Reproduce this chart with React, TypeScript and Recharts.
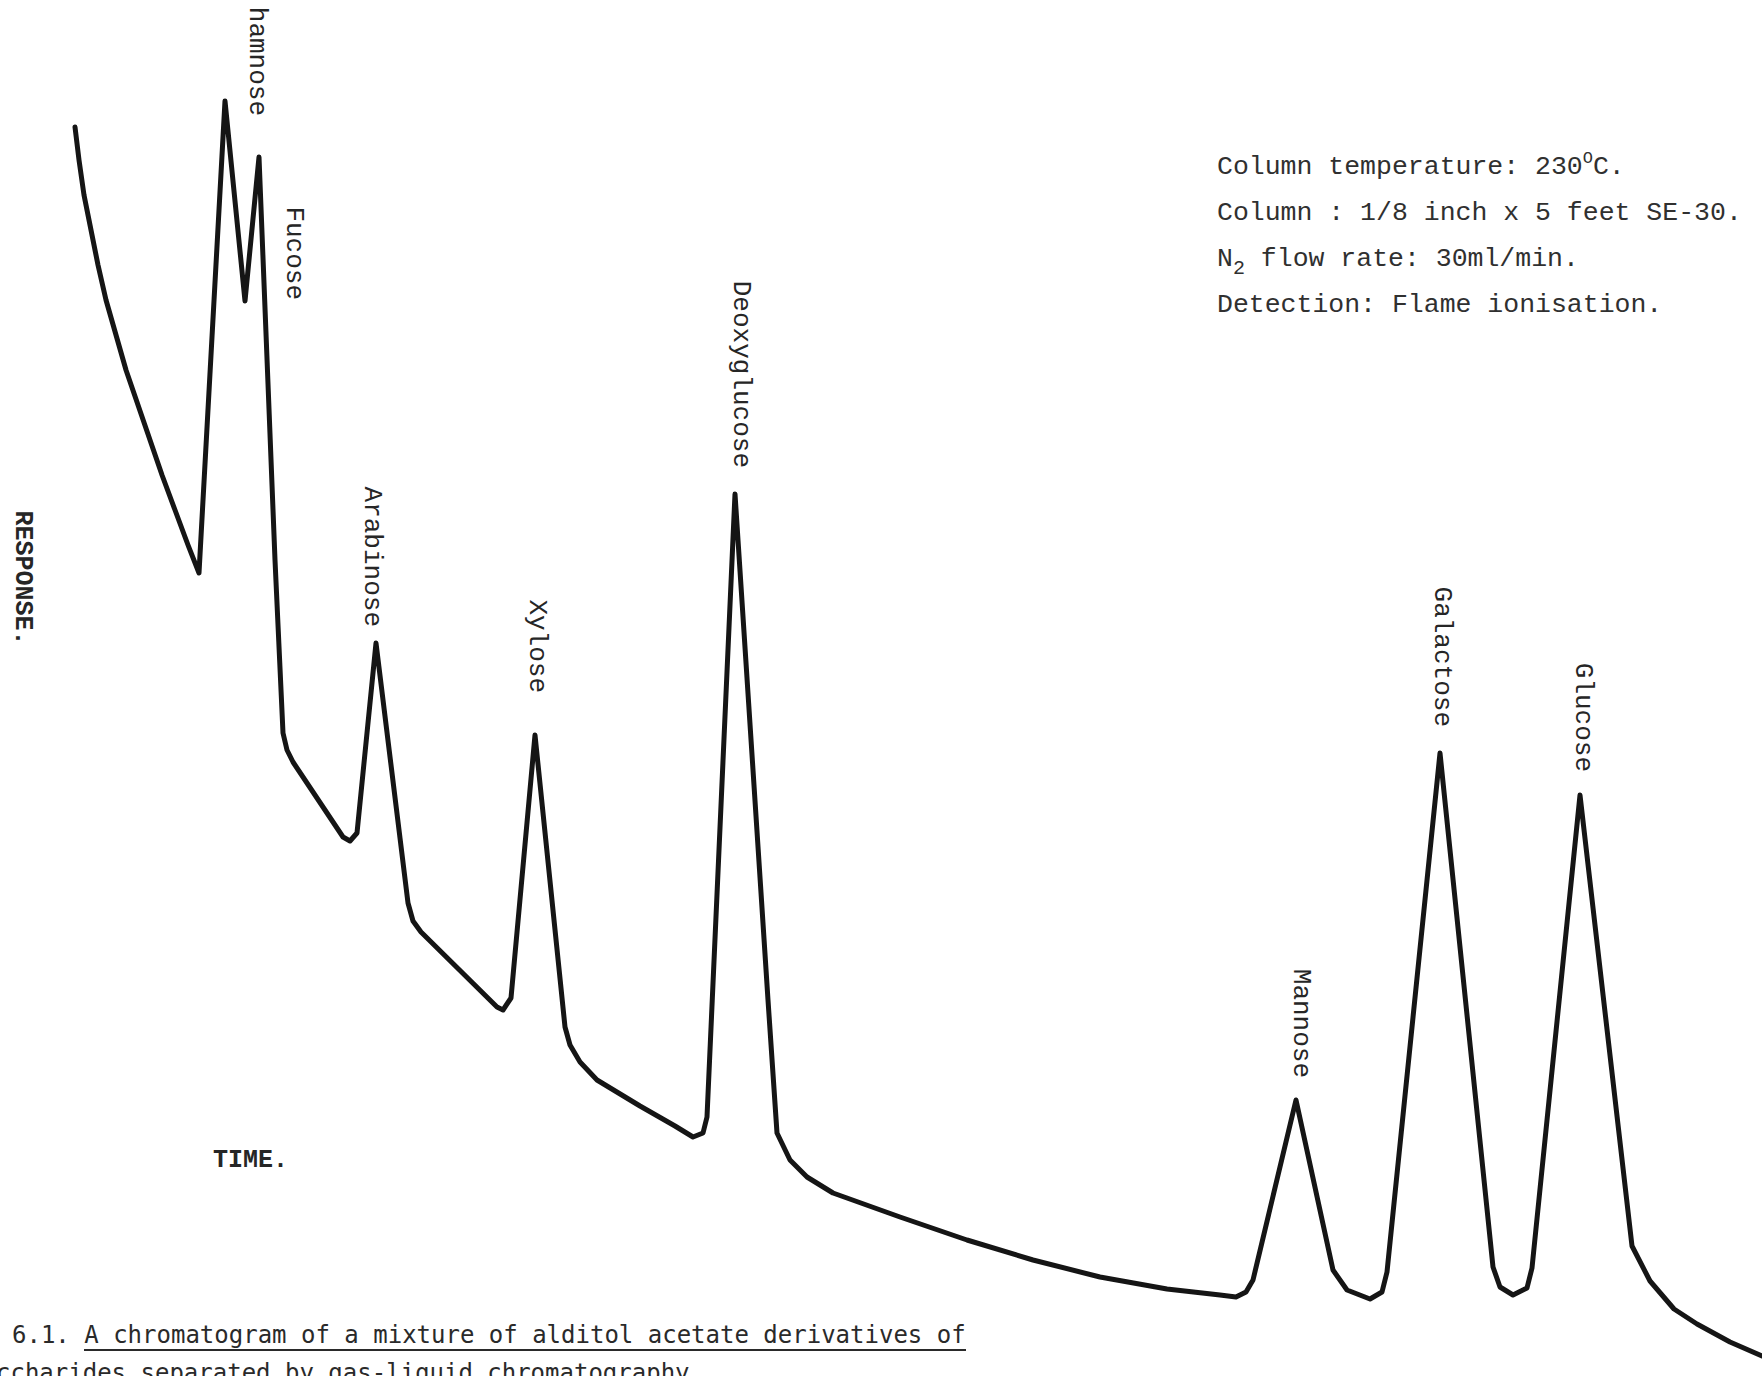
import React from 'react';
import { LineChart, Line, XAxis, YAxis } from 'recharts';

// Recorder trace, read in mm of chart paper (time along, response up).
const time = [
  7.5, 7.9, 8.4, 9.1, 9.8, 10.6, 11.6, 12.6, 13.8, 15.0, 16.2, 17.5, 18.8, 19.9,
  22.5, 24.5, 25.9, 27.5, 28.3, 28.7, 29.3, 34.3, 35.0, 35.7,
  37.6, 40.8, 41.3, 42.1, 49.7, 50.3, 51.1, 53.5, 56.5, 57.0,
  58.0, 59.7, 64.0, 67.5, 69.3, 70.3, 70.7, 73.5, 76.8, 77.7,
  79.0, 80.7, 83.3, 90.0, 96.7, 103.3, 110.0, 116.7, 122.0, 123.6,
  124.6, 125.3, 129.6, 133.3, 134.7, 137.0, 138.2, 138.7, 144.0, 149.3,
  150.0, 151.3, 152.7, 153.2, 158.0, 163.2, 165.0, 167.4, 169.7, 173.0,
  176.2,
];

const response = [
  124.9, 121.6, 118.1, 114.6, 111.1, 107.6, 104.1, 100.6, 97.1, 93.6, 90.1, 86.6, 83.1, 80.3,
  127.5, 107.5, 121.9, 81.6, 64.3, 62.6, 61.4, 53.9, 53.5, 54.3,
  73.3, 47.3, 45.5, 44.4, 36.9, 36.6, 37.8, 64.1, 34.9, 33.1,
  31.4, 29.6, 27.0, 25.0, 23.9, 24.3, 25.9, 88.2, 37.6, 24.3,
  21.6, 19.9, 18.3, 15.9, 13.6, 11.6, 9.9, 8.7, 8.1, 7.9,
  8.4, 9.6, 27.6, 10.6, 8.6, 7.7, 8.4, 10.4, 62.3, 10.9,
  8.9, 8.1, 8.8, 10.8, 58.1, 13.0, 9.5, 6.7, 5.2, 3.4,
  2.0,
];

// Peak names and the times they sit at on the trace.
const peakNames = ['hamnose', 'Fucose', 'Arabinose', 'Xylose', 'Deoxyglucose', 'Mannose', 'Galactose', 'Glucose'];
const peakTimes = [22.5, 25.9, 37.6, 53.5, 73.5, 129.6, 144.0, 158.0];

const runConditions = [
  'Column : 1/8 inch x 5 feet SE-30.',
  'Detection: Flame ionisation.',
];

const W = 1762;
const H = 1376;

// where each peak label sits relative to its peak tip (px)
const labelNudge: Record<string, [number, number]> = {
  hamnose: [32, 15],
  Fucose: [35, 143],
  Arabinose: [-4, -16],
  Xylose: [2, -42],
  Deoxyglucose: [6, -26],
  Mannose: [5, -22],
  Galactose: [2, -26],
  Glucose: [3, -23],
};

const data = time.map((t, i) => {
  const k = peakTimes.indexOf(t);
  return { t, r: response[i], peak: k >= 0 ? peakNames[k] : null };
});

const typewriter = "'Liberation Mono', 'Courier New', monospace";
const ink = '#262626';

const PeakLabel = (props: any) => {
  const { cx, cy, payload, index } = props;
  if (!payload || !payload.peak) return <g key={`pk-${index}`} />;
  const [dx, dy] = labelNudge[payload.peak];
  const x = cx + dx;
  const y = cy + dy;
  return (
    <text
      key={`pk-${index}`}
      x={x}
      y={y}
      transform={`rotate(90 ${x} ${y})`}
      textAnchor="end"
      dominantBaseline="central"
      fontFamily={typewriter}
      fontSize={26}
      fill={ink}
    >
      {payload.peak}
    </text>
  );
};

const Notes = () => (
  <svg width={W} height={H} style={{ position: 'absolute', left: 0, top: 0, pointerEvents: 'none' }}>
    <g fontFamily={typewriter} fontSize={26.5} fill="#303030">
      <text x={1217} y={174}>
        Column temperature: 230
        <tspan fontSize={17} dy={-11}>O</tspan>
        <tspan dy={11}>C.</tspan>
      </text>
      <text x={1217} y={220}>{runConditions[0]}</text>
      <text x={1217} y={266}>
        N
        <tspan fontSize={20} dy={8}>2</tspan>
        <tspan dy={-8}> flow rate: 30ml/min.</tspan>
      </text>
      <text x={1217} y={312}>{runConditions[1]}</text>
    </g>

    <text
      x={22}
      y={578}
      transform="rotate(90 22 578)"
      textAnchor="middle"
      dominantBaseline="central"
      fontFamily={typewriter}
      fontWeight="bold"
      fontSize={25}
      fill={ink}
    >
      RESPONSE.
    </text>
    <text x={213} y={1167} fontFamily={typewriter} fontWeight="bold" fontSize={25} fill={ink}>
      TIME.
    </text>

    <g fontFamily="'DejaVu Sans Mono', monospace" fontSize={24} fill="#2a2a2a">
      <text x={12} y={1343}>6.1. A chromatogram of a mixture of alditol acetate derivatives of</text>
      <line x1={84} x2={966} y1={1350} y2={1350} stroke="#2a2a2a" strokeWidth={2.2} />
      <text x={-4} y={1381}>ccharides separated by gas-liquid chromatography.</text>
    </g>
  </svg>
);

export default function App() {
  return (
    <div style={{ position: 'relative', width: W, height: H, background: '#fff', overflow: 'hidden' }}>
      <style>{'body { margin: 0; background: #fff; }'}</style>
      <LineChart width={W} height={H} data={data} margin={{ top: 0, right: 0, bottom: 0, left: 0 }}>
        <XAxis type="number" dataKey="t" domain={[0, 176.2]} hide />
        <YAxis type="number" domain={[0, 137.6]} hide />
        <Line
          type="linear"
          dataKey="r"
          stroke="#151515"
          strokeWidth={5}
          strokeLinejoin="round"
          strokeLinecap="round"
          dot={PeakLabel}
          activeDot={false}
          isAnimationActive={false}
        />
      </LineChart>
      <Notes />
    </div>
  );
}
